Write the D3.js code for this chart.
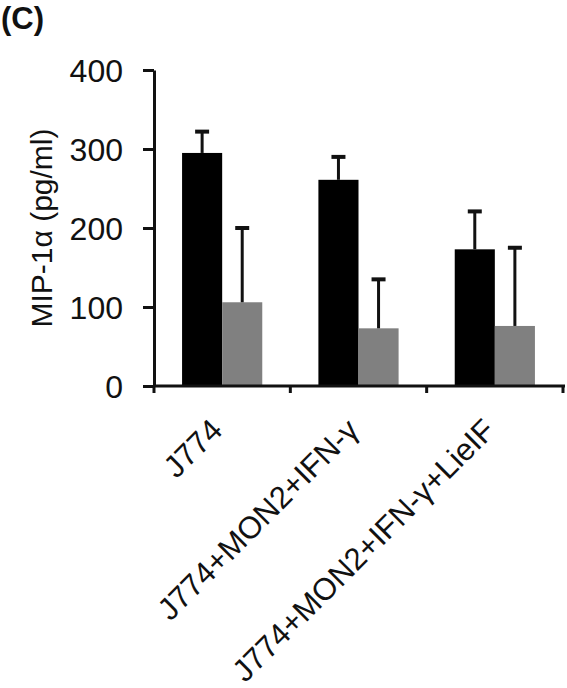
<!DOCTYPE html>
<html lang="en">
<head>
    <meta charset="UTF-8">
    <title>MIP-1a</title>
    <script src="https://d3js.org/d3.v7.min.js"></script>
    <style>
        body { margin: 0; background: #fff; }
        svg text { font-family: "Liberation Sans", Arial, sans-serif; fill: #111; }
    </style>
</head>
<body>
    <div id="chart"></div>

    <script>
        // Data
        const categories = ["J774", "J774+MON2+IFN-γ", "J774+MON2+IFN-γ+LieIF"];
        const series = ["black", "grey"];
        const blackValues = [295, 261, 173];
        const blackErrors = [27, 29, 48];
        const greyValues = [106, 73, 76];
        const greyErrors = [94, 62, 99];
        const yTicks = [0, 100, 200, 300, 400];

        const width = 567, height = 688;

        const svg = d3.select("#chart")
            .append("svg")
            .attr("width", width)
            .attr("height", height);

        // Scales
        const y = d3.scaleLinear().domain([0, 400]).range([386, 70]);
        const x = d3.scaleBand().domain(categories).range([154, 563]).padding(0);
        const xs = d3.scaleBand().domain(series).range([0, x.bandwidth()])
            .paddingInner(0).paddingOuter(0.7);
        const colour = d3.scaleOrdinal().domain(series).range(["#000000", "#808080"]);

        const rows = [];
        categories.forEach((c, i) => {
            rows.push({ cat: c, s: "black", v: blackValues[i], e: blackErrors[i] });
            rows.push({ cat: c, s: "grey", v: greyValues[i], e: greyErrors[i] });
        });

        // Panel letter
        svg.append("text")
            .attr("x", 1)
            .attr("y", 29)
            .attr("font-size", 31)
            .attr("font-weight", "bold")
            .text("(C)");

        // Bars
        svg.append("g")
            .selectAll("rect")
            .data(rows)
            .join("rect")
            .attr("x", d => x(d.cat) + xs(d.s))
            .attr("y", d => y(d.v))
            .attr("width", xs.bandwidth())
            .attr("height", d => y(0) - y(d.v))
            .attr("fill", d => colour(d.s));

        // Error bars (upper only)
        const err = svg.append("g")
            .selectAll("g")
            .data(rows)
            .join("g")
            .attr("stroke", "#111");

        err.append("line")
            .attr("x1", d => x(d.cat) + xs(d.s) + xs.bandwidth() / 2)
            .attr("x2", d => x(d.cat) + xs(d.s) + xs.bandwidth() / 2)
            .attr("y1", d => y(d.v))
            .attr("y2", d => y(d.v + d.e))
            .attr("stroke-width", 3);

        err.append("line")
            .attr("x1", d => x(d.cat) + xs(d.s) + xs.bandwidth() / 2 - 7)
            .attr("x2", d => x(d.cat) + xs(d.s) + xs.bandwidth() / 2 + 7)
            .attr("y1", d => y(d.v + d.e))
            .attr("y2", d => y(d.v + d.e))
            .attr("stroke-width", 4);

        // Y axis
        const yAxis = svg.append("g")
            .attr("transform", "translate(154,0)")
            .call(d3.axisLeft(y).tickValues(yTicks).tickSize(11).tickSizeOuter(0).tickPadding(20));
        yAxis.select(".domain").attr("stroke", "#111").attr("stroke-width", 3);
        yAxis.selectAll(".tick line").attr("stroke", "#111").attr("stroke-width", 3);
        yAxis.selectAll(".tick text")
            .attr("font-size", 32)
            .attr("dy", "0.36em")
            .style("font-family", "'Liberation Sans', Arial, sans-serif")
            .attr("fill", "#111");

        svg.append("text")
            .attr("transform", `translate(52,${(y(0) + y(400)) / 2}) rotate(-90)`)
            .attr("text-anchor", "middle")
            .attr("font-size", 30)
            .text("MIP-1α (pg/ml)");

        // X axis
        const xAxis = svg.append("g")
            .attr("transform", `translate(0,${y(0)})`)
            .call(d3.axisBottom(x).tickSize(0).tickSizeOuter(0).tickFormat(""));
        xAxis.select(".domain").attr("stroke", "#111").attr("stroke-width", 3)
            .attr("d", `M154,0H565`);

        const bounds = categories.map(c => x(c)).concat([x.range()[1]]);
        svg.append("g")
            .selectAll("line")
            .data(bounds)
            .join("line")
            .attr("x1", d => d)
            .attr("x2", d => d)
            .attr("y1", y(0))
            .attr("y2", y(0) + 7)
            .attr("stroke", "#111")
            .attr("stroke-width", 3);

        svg.append("g")
            .selectAll("text")
            .data(categories)
            .join("text")
            .attr("transform", d => `translate(${x(d) + x.bandwidth() / 2 + 2},432) rotate(-45)`)
            .attr("text-anchor", "end")
            .attr("font-size", 31)
            .text(d => d);
    </script>
</body>
</html>
